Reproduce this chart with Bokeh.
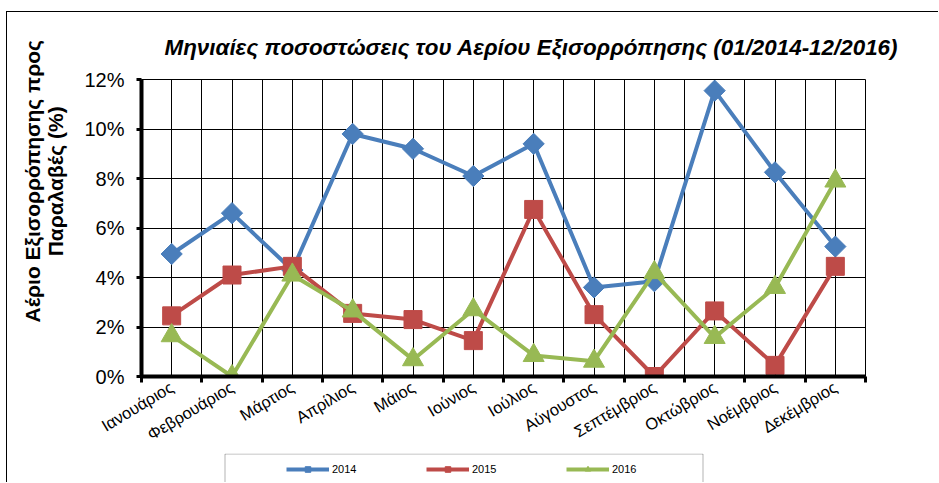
import math
from bokeh.plotting import figure
from bokeh.layouts import column
from bokeh.models import (FixedTicker, Legend, LegendItem, BoxAnnotation,
                          PrintfTickFormatter, Range1d)
from bokeh.embed import file_html
from bokeh.resources import INLINE

months = ["Ιανουάριος", "Φεβρουάριος", "Μάρτιος", "Απρίλιος", "Μάιος", "Ιούνιος",
          "Ιούλιος", "Αύγουστος", "Σεπτέμβριος", "Οκτώβριος", "Νοέμβριος", "Δεκέμβριος"]
y2014 = [4.95, 6.6, 4.3, 9.8, 9.2, 8.1, 9.4, 3.6, 3.85, 11.55, 8.25, 5.25]
y2015 = [2.45, 4.1, 4.45, 2.55, 2.3, 1.45, 6.75, 2.5, 0.0, 2.65, 0.45, 4.45]
y2016 = [1.65, 0.0, 4.1, 2.65, 0.68, 2.7, 0.85, 0.62, 4.2, 1.58, 3.6, 7.9]
series_names = ["2014", "2015", "2016"]
yticks = [0, 2, 4, 6, 8, 10, 12]

title_text = "Μηνιαίες ποσοστώσεις του Αερίου Εξισορρόπησης (01/2014-12/2016)"
ylabel_lines = ["Αέριο Εξισορρόπησης προς", "Παραλαβές (%)"]

xs = list(range(1, len(months) + 1))
series = [y2014, y2015, y2016]
FONT = "Liberation Sans"
blue, red, green = "#4A7EBB", "#BE4B48", "#98B954"
colors = [blue, red, green]
markers = ["square", "square", "triangle"]
angles = [math.pi / 4, 0, 0]
sizes = [15, 18, 21]

# ---------------- main chart ----------------
W, H = 932, 442
FL, FT, FR, FB = 134, 67, 858, 365   # frame edges in canvas px
p = figure(width=W, height=H, output_backend="svg", toolbar_location=None,
           x_range=Range1d(0.5, len(months) + 0.5), y_range=Range1d(0, 12),
           min_border_left=FL, min_border_right=W - FR, min_border_top=FT,
           min_border_bottom=H - FB)
p.margin = (11, 0, 0, 6)
p.styles = {"border-top": "1px solid black", "border-left": "1px solid black"}
p.background_fill_color = "white"
p.border_fill_color = "white"
p.outline_line_color = "black"
p.outline_line_width = 1

p.title.text = title_text
p.title.align = "left"
p.title.offset = 23
p.title.text_font = FONT
p.title.text_font_size = "22.4px"
p.title.text_font_style = "bold italic"
p.title.text_color = "black"
p.title.standoff = 40

xt = FixedTicker(ticks=xs, minor_ticks=[x - 0.5 for x in xs] + [len(months) + 0.5])
p.xaxis.ticker = xt
p.xaxis.major_label_overrides = {x: m for x, m in zip(xs, months)}
p.xaxis.major_label_orientation = math.radians(31)
p.xaxis.major_tick_in = 0
p.xaxis.major_tick_out = 0
p.xaxis.minor_tick_in = 0
p.xaxis.minor_tick_out = 6
p.xaxis.minor_tick_line_width = 3
p.xaxis.minor_tick_line_color = "black"
p.xaxis.axis_line_width = 4
p.xaxis.axis_line_color = "black"
p.xaxis.major_label_text_font = FONT
p.xaxis.major_label_text_font_size = "16.5px"
p.xaxis.major_label_text_color = "black"
p.xaxis.major_label_standoff = 3
p.xgrid.ticker = xt
p.xgrid.grid_line_color = "black"
p.xgrid.grid_line_width = 1
p.xgrid.minor_grid_line_color = "black"
p.xgrid.minor_grid_line_width = 1

p.yaxis.ticker = FixedTicker(ticks=yticks, minor_ticks=[])
p.yaxis.formatter = PrintfTickFormatter(format="%d%%")
p.yaxis.major_tick_in = 0
p.yaxis.major_tick_out = 5
p.yaxis.major_tick_line_width = 3
p.yaxis.major_tick_line_color = "black"
p.yaxis.minor_tick_line_color = None
p.yaxis.axis_line_width = 4
p.yaxis.axis_line_color = "black"
p.yaxis.major_label_text_font = FONT
p.yaxis.major_label_text_font_size = "20px"
p.yaxis.major_label_text_color = "black"
p.yaxis.major_label_standoff = 12
# leading no-break spaces shift the centred label upwards, as in the reference
pad = "\u00a0" * 16
p.yaxis.axis_label = "\n".join(pad + s for s in ylabel_lines)
p.yaxis.axis_label_text_font = FONT
p.yaxis.axis_label_text_font_size = "21px"
p.yaxis.axis_label_text_font_style = "bold"
p.yaxis.axis_label_text_color = "black"
p.yaxis.axis_label_text_line_height = 1.0
p.yaxis.axis_label_standoff = 14
p.ygrid.ticker = FixedTicker(ticks=yticks)
p.ygrid.grid_line_color = "black"
p.ygrid.grid_line_width = 1

for ys, col, mk, ang, sz in zip(series, colors, markers, angles, sizes):
    p.line(xs, ys, line_color=col, line_width=4)
    p.scatter(xs, ys, marker=mk, angle=ang, size=sz, fill_color=col, line_color=col)

# ---------------- legend strip (its frame is aligned with the chart frame) ----
LW, LH = 932, 29
q = figure(width=LW, height=LH, output_backend="svg", toolbar_location=None,
           x_range=Range1d(0, 724), y_range=Range1d(-40, -11),
           x_axis_type=None, y_axis_type=None,
           min_border_left=0, min_border_right=0, min_border_top=0, min_border_bottom=0)
q.margin = (0, 0, 0, 6)
q.styles = {"border-left": "1px solid black"}
q.outline_line_color = None
q.background_fill_color = "white"
q.border_fill_color = "white"
q.xgrid.visible = False
q.ygrid.visible = False

items = []
for name, ys, col, mk, ang in zip(series_names, series, colors, markers, angles):
    # same series, but outside this strip's visible y-range: only the legend swatch shows
    lr = q.line(xs, ys, line_color=col, line_width=4)
    sr = q.scatter(xs, ys, marker=mk, angle=ang, size=8, fill_color=col, line_color=col)
    items.append(LegendItem(label=name, renderers=[lr, sr]))

lg = Legend(items=items, orientation="horizontal", location=(145, 6),
            glyph_width=43, glyph_height=14, label_height=14,
            label_standoff=3, label_width=78, spacing=16, padding=6, margin=0,
            label_text_font=FONT, label_text_font_size="11px", label_text_color="black",
            border_line_color=None, background_fill_alpha=0)
q.add_layout(lg, "center")
q.add_layout(BoxAnnotation(left=83.5, right=561.5, top=-11.5, bottom=-60,
                           fill_alpha=0, line_color="black", line_width=1))

layout = column(p, q, spacing=0)
open("out.html", "w").write(file_html(layout, INLINE))
